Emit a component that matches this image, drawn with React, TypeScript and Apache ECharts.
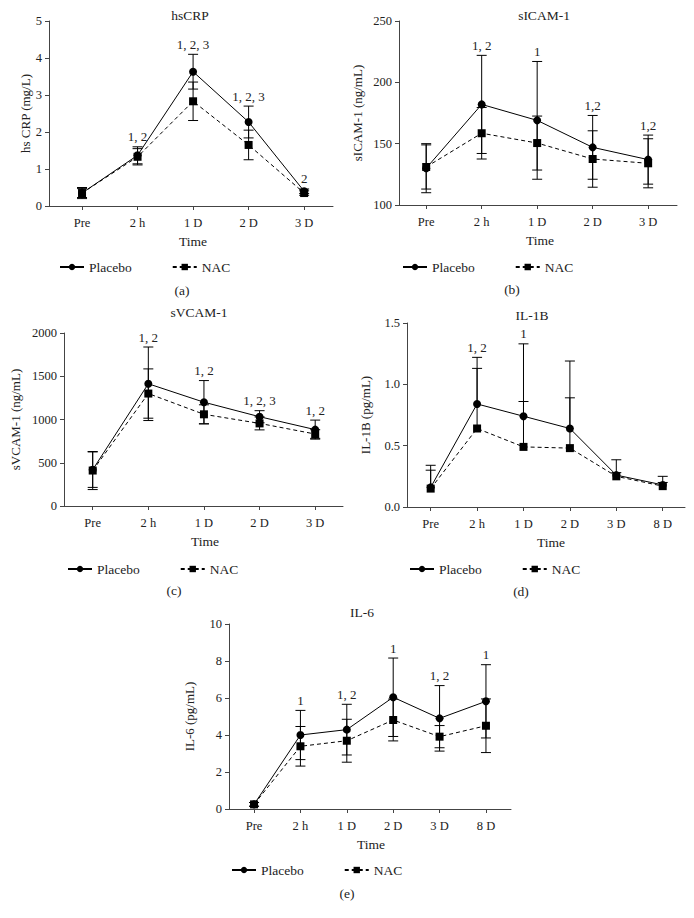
import React, { useEffect, useRef } from "react";
import * as echarts from "echarts";

// ---------- data ----------
const cats5 = ["Pre", "2 h", "1 D", "2 D", "3 D"];
const cats6 = ["Pre", "2 h", "1 D", "2 D", "3 D", "8 D"];

const crpPlacebo = [0.35, 1.37, 3.63, 2.27, 0.4];
const crpPlaceboSD = [0.12, 0.23, 0.47, 0.43, 0.06];
const crpNAC = [0.35, 1.33, 2.83, 1.65, 0.35];
const crpNACSD = [0.15, 0.22, 0.52, 0.4, 0.06];
const crpSig = ["", "1, 2", "1, 2, 3", "1, 2, 3", "2"];

const icamPlacebo = [130, 182, 169, 147, 137];
const icamPlaceboSD = [20, 40, 48, 26, 20];
const icamNAC = [131, 158.5, 150.5, 137.5, 134];
const icamNACSD = [18, 21, 22, 23, 20];
const icamSig = ["", "1, 2", "1", "1,2", "1,2"];

const vcamPlacebo = [420, 1413, 1200, 1032, 883];
const vcamPlaceboSD = [205, 425, 250, 70, 110];
const vcamNAC = [410, 1300, 1060, 955, 832];
const vcamNACSD = [220, 285, 110, 75, 50];
const vcamSig = ["", "1, 2", "1, 2", "1, 2, 3", "1, 2"];

const il1bPlacebo = [0.16, 0.84, 0.74, 0.64, 0.26, 0.18];
const il1bPlaceboSD = [0.18, 0.38, 0.59, 0.55, 0.125, 0.07];
const il1bNAC = [0.15, 0.64, 0.49, 0.48, 0.25, 0.17];
const il1bNACSD = [0.15, 0.49, 0.37, 0.41, 0.03, 0.03];
const il1bSig = ["", "1, 2", "1", "", "", ""];

const il6Placebo = [0.25, 4.0, 4.29, 6.04, 4.9, 5.82];
const il6PlaceboSD = [0.1, 1.33, 1.37, 2.12, 1.77, 1.98];
const il6NAC = [0.25, 3.39, 3.69, 4.81, 3.91, 4.5];
const il6NACSD = [0.1, 1.07, 1.16, 1.13, 0.6, 1.45];
const il6Sig = ["", "1", "1, 2", "1", "1, 2", "1"];

const FONT = "Liberation Serif, Times New Roman, serif";
const TXT = "#222";
const AX = "#444";

type Panel = {
  cats: string[];
  p: number[]; psd: number[]; n: number[]; nsd: number[]; sig: string[];
  twoSided: boolean;
  grid: { left: number; top: number; width: number; height: number };
  xmin: number; xmax: number;
  ymin: number; ymax: number; yint: number; ydec: number;
  title: string; tx: number; ty: number;
  yname: string; ynx: number;
  timeX: number; legX: number; legY: number; letter: string; letX: number;
};

const panels: Panel[] = [
  {
    cats: cats5, p: crpPlacebo, psd: crpPlaceboSD, n: crpNAC, nsd: crpNACSD, sig: crpSig, twoSided: true,
    grid: { left: 49, top: 21, width: 284, height: 185 }, xmin: -0.595, xmax: 4.52,
    ymin: 0, ymax: 5, yint: 1, ydec: 0,
    title: "hsCRP", tx: 190, ty: 15, yname: "hs CRP (mg/L)", ynx: 25,
    timeX: 193, legX: 54, legY: 255, letter: "(a)", letX: 182,
  },
  {
    cats: cats5, p: icamPlacebo, psd: icamPlaceboSD, n: icamNAC, nsd: icamNACSD, sig: icamSig, twoSided: true,
    grid: { left: 399, top: 21, width: 278, height: 184 }, xmin: -0.49, xmax: 4.52,
    ymin: 100, ymax: 250, yint: 50, ydec: 0,
    title: "sICAM-1", tx: 544, ty: 15, yname: "sICAM-1 (ng/mL)", ynx: 357,
    timeX: 540, legX: 397, legY: 255, letter: "(b)", letX: 512,
  },
  {
    cats: cats5, p: vcamPlacebo, psd: vcamPlaceboSD, n: vcamNAC, nsd: vcamNACSD, sig: vcamSig, twoSided: true,
    grid: { left: 64, top: 333, width: 279, height: 173 }, xmin: -0.516, xmax: 4.5,
    ymin: 0, ymax: 2000, yint: 500, ydec: 0,
    title: "sVCAM-1", tx: 199, ty: 312, yname: "sVCAM-1 (ng/mL)", ynx: 15,
    timeX: 205, legX: 62, legY: 557, letter: "(c)", letX: 174,
  },
  {
    cats: cats6, p: il1bPlacebo, psd: il1bPlaceboSD, n: il1bNAC, nsd: il1bNACSD, sig: il1bSig, twoSided: false,
    grid: { left: 407, top: 323, width: 278, height: 184 }, xmin: -0.51, xmax: 5.48,
    ymin: 0, ymax: 1.5, yint: 0.5, ydec: 1,
    title: "IL-1B", tx: 532, ty: 315, yname: "IL-1B (pg/mL)", ynx: 365,
    timeX: 551, legX: 404, legY: 557, letter: "(d)", letX: 521,
  },
  {
    cats: cats6, p: il6Placebo, psd: il6PlaceboSD, n: il6NAC, nsd: il6NACSD, sig: il6Sig, twoSided: true,
    grid: { left: 229, top: 624, width: 282, height: 185 }, xmin: -0.54, xmax: 5.54,
    ymin: 0, ymax: 10, yint: 2, ydec: 0,
    title: "IL-6", tx: 362, ty: 612, yname: "IL-6 (pg/mL)", ynx: 189,
    timeX: 371, legX: 226, legY: 858, letter: "(e)", letX: 347,
  },
];

function errSeries(gi: number, means: number[], sds: number[], twoSided: boolean) {
  return {
    type: "custom",
    xAxisIndex: gi,
    yAxisIndex: gi,
    z: 1,
    silent: true,
    clip: false,
    data: means.map((m, i) => [i, twoSided ? m - sds[i] : m, m + sds[i]]),
    renderItem: (params: any, api: any) => {
      const x = api.value(0);
      const a = api.coord([x, api.value(2)]);
      const b = api.coord([x, api.value(1)]);
      const hw = 5;
      const st = { stroke: "#000", lineWidth: 1 };
      const ch: any[] = [
        { type: "line", shape: { x1: a[0], y1: a[1], x2: b[0], y2: b[1] }, style: st },
        { type: "line", shape: { x1: a[0] - hw, y1: a[1], x2: a[0] + hw, y2: a[1] }, style: st },
      ];
      if (twoSided) {
        ch.push({ type: "line", shape: { x1: b[0] - hw, y1: b[1], x2: b[0] + hw, y2: b[1] }, style: st });
      }
      return { type: "group", children: ch };
    },
  };
}

function sigSeries(gi: number, pn: Panel) {
  return {
    type: "custom",
    xAxisIndex: gi,
    yAxisIndex: gi,
    z: 5,
    silent: true,
    clip: false,
    data: pn.p.map((m, i) => [i, Math.max(m + pn.psd[i], pn.n[i] + pn.nsd[i])]),
    renderItem: (params: any, api: any) => {
      const s = pn.sig[params.dataIndex];
      if (!s) return null;
      const c = api.coord([api.value(0), api.value(1)]);
      return {
        type: "text",
        x: c[0],
        y: c[1] - 10,
        style: {
          text: s, align: "center", verticalAlign: "middle",
          fontSize: 13, fontFamily: FONT, fill: TXT,
        },
      };
    },
  };
}

function buildOption() {
  const grid: any[] = [];
  const xAxis: any[] = [];
  const yAxis: any[] = [];
  const series: any[] = [];
  const legend: any[] = [];
  const graphic: any[] = [];

  panels.forEach((pn, gi) => {
    grid.push({ ...pn.grid, containLabel: false });
    const idx = pn.cats.map((_, i) => i);
    xAxis.push({
      type: "value", gridIndex: gi, min: pn.xmin, max: pn.xmax,
      splitLine: { show: false },
      axisLine: { show: true, onZero: false, lineStyle: { color: AX, width: 1 } },
      axisTick: { show: true, length: 4, customValues: idx, lineStyle: { color: AX } },
      axisLabel: {
        customValues: idx, margin: 10, color: TXT, fontFamily: FONT, fontSize: 12.5,
        formatter: (v: number) => pn.cats[Math.round(v)] ?? "",
      },
    });
    yAxis.push({
      type: "value", gridIndex: gi, min: pn.ymin, max: pn.ymax, interval: pn.yint,
      splitLine: { show: false },
      axisLine: { show: true, onZero: false, lineStyle: { color: AX, width: 1 } },
      axisTick: { show: true, length: 4, lineStyle: { color: AX } },
      axisLabel: {
        margin: 7, color: TXT, fontFamily: FONT, fontSize: 12.5,
        formatter: (v: number) => v.toFixed(pn.ydec),
      },
    });
    series.push(errSeries(gi, pn.p, pn.psd, pn.twoSided));
    series.push(errSeries(gi, pn.n, pn.nsd, pn.twoSided));
    series.push({
      type: "line", name: "Placebo", xAxisIndex: gi, yAxisIndex: gi, z: 3,
      data: pn.p.map((v, i) => [i, v]),
      symbol: "circle", symbolSize: 8,
      lineStyle: { color: "#000", width: 1 },
      itemStyle: { color: "#000" },
    });
    series.push({
      type: "line", name: "NAC", xAxisIndex: gi, yAxisIndex: gi, z: 3,
      data: pn.n.map((v, i) => [i, v]),
      symbol: "rect", symbolSize: 8,
      lineStyle: { color: "#000", width: 1, type: [4, 3] },
      itemStyle: { color: "#000" },
    });
    series.push(sigSeries(gi, pn));

    legend.push({
      data: ["Placebo", "NAC"], left: pn.legX, top: pn.legY, orient: "horizontal",
      itemWidth: 24, itemHeight: 8, itemGap: 40, selectedMode: false,
      textStyle: { color: TXT, fontFamily: FONT, fontSize: 13.5 },
    });

    const g = pn.grid;
    const tstyle = (text: string, size: number) => ({
      text, align: "center", verticalAlign: "middle", fontSize: size, fontFamily: FONT, fill: TXT,
    });
    graphic.push({ type: "text", x: pn.tx, y: pn.ty, style: tstyle(pn.title, 13.5) });
    graphic.push({
      type: "text", x: pn.ynx, y: g.top + g.height / 2, rotation: Math.PI / 2,
      style: tstyle(pn.yname, 13),
    });
    graphic.push({ type: "text", x: pn.timeX, y: g.top + g.height + 35, style: tstyle("Time", 13.5) });
    graphic.push({ type: "text", x: pn.letX, y: g.top + g.height + 84, style: tstyle(pn.letter, 13.5) });
  });

  return { animation: false, backgroundColor: "#fff", grid, xAxis, yAxis, series, legend, graphic };
}

export default function App() {
  const ref = useRef<HTMLDivElement>(null);
  useEffect(() => {
    if (!ref.current) return;
    const chart = echarts.init(ref.current, undefined, { renderer: "svg" });
    chart.setOption(buildOption() as any);
    return () => chart.dispose();
  }, []);
  return (
    <div
      ref={ref}
      style={{ position: "absolute", left: 0, top: 0, width: 694, height: 918, background: "#fff" }}
    />
  );
}
